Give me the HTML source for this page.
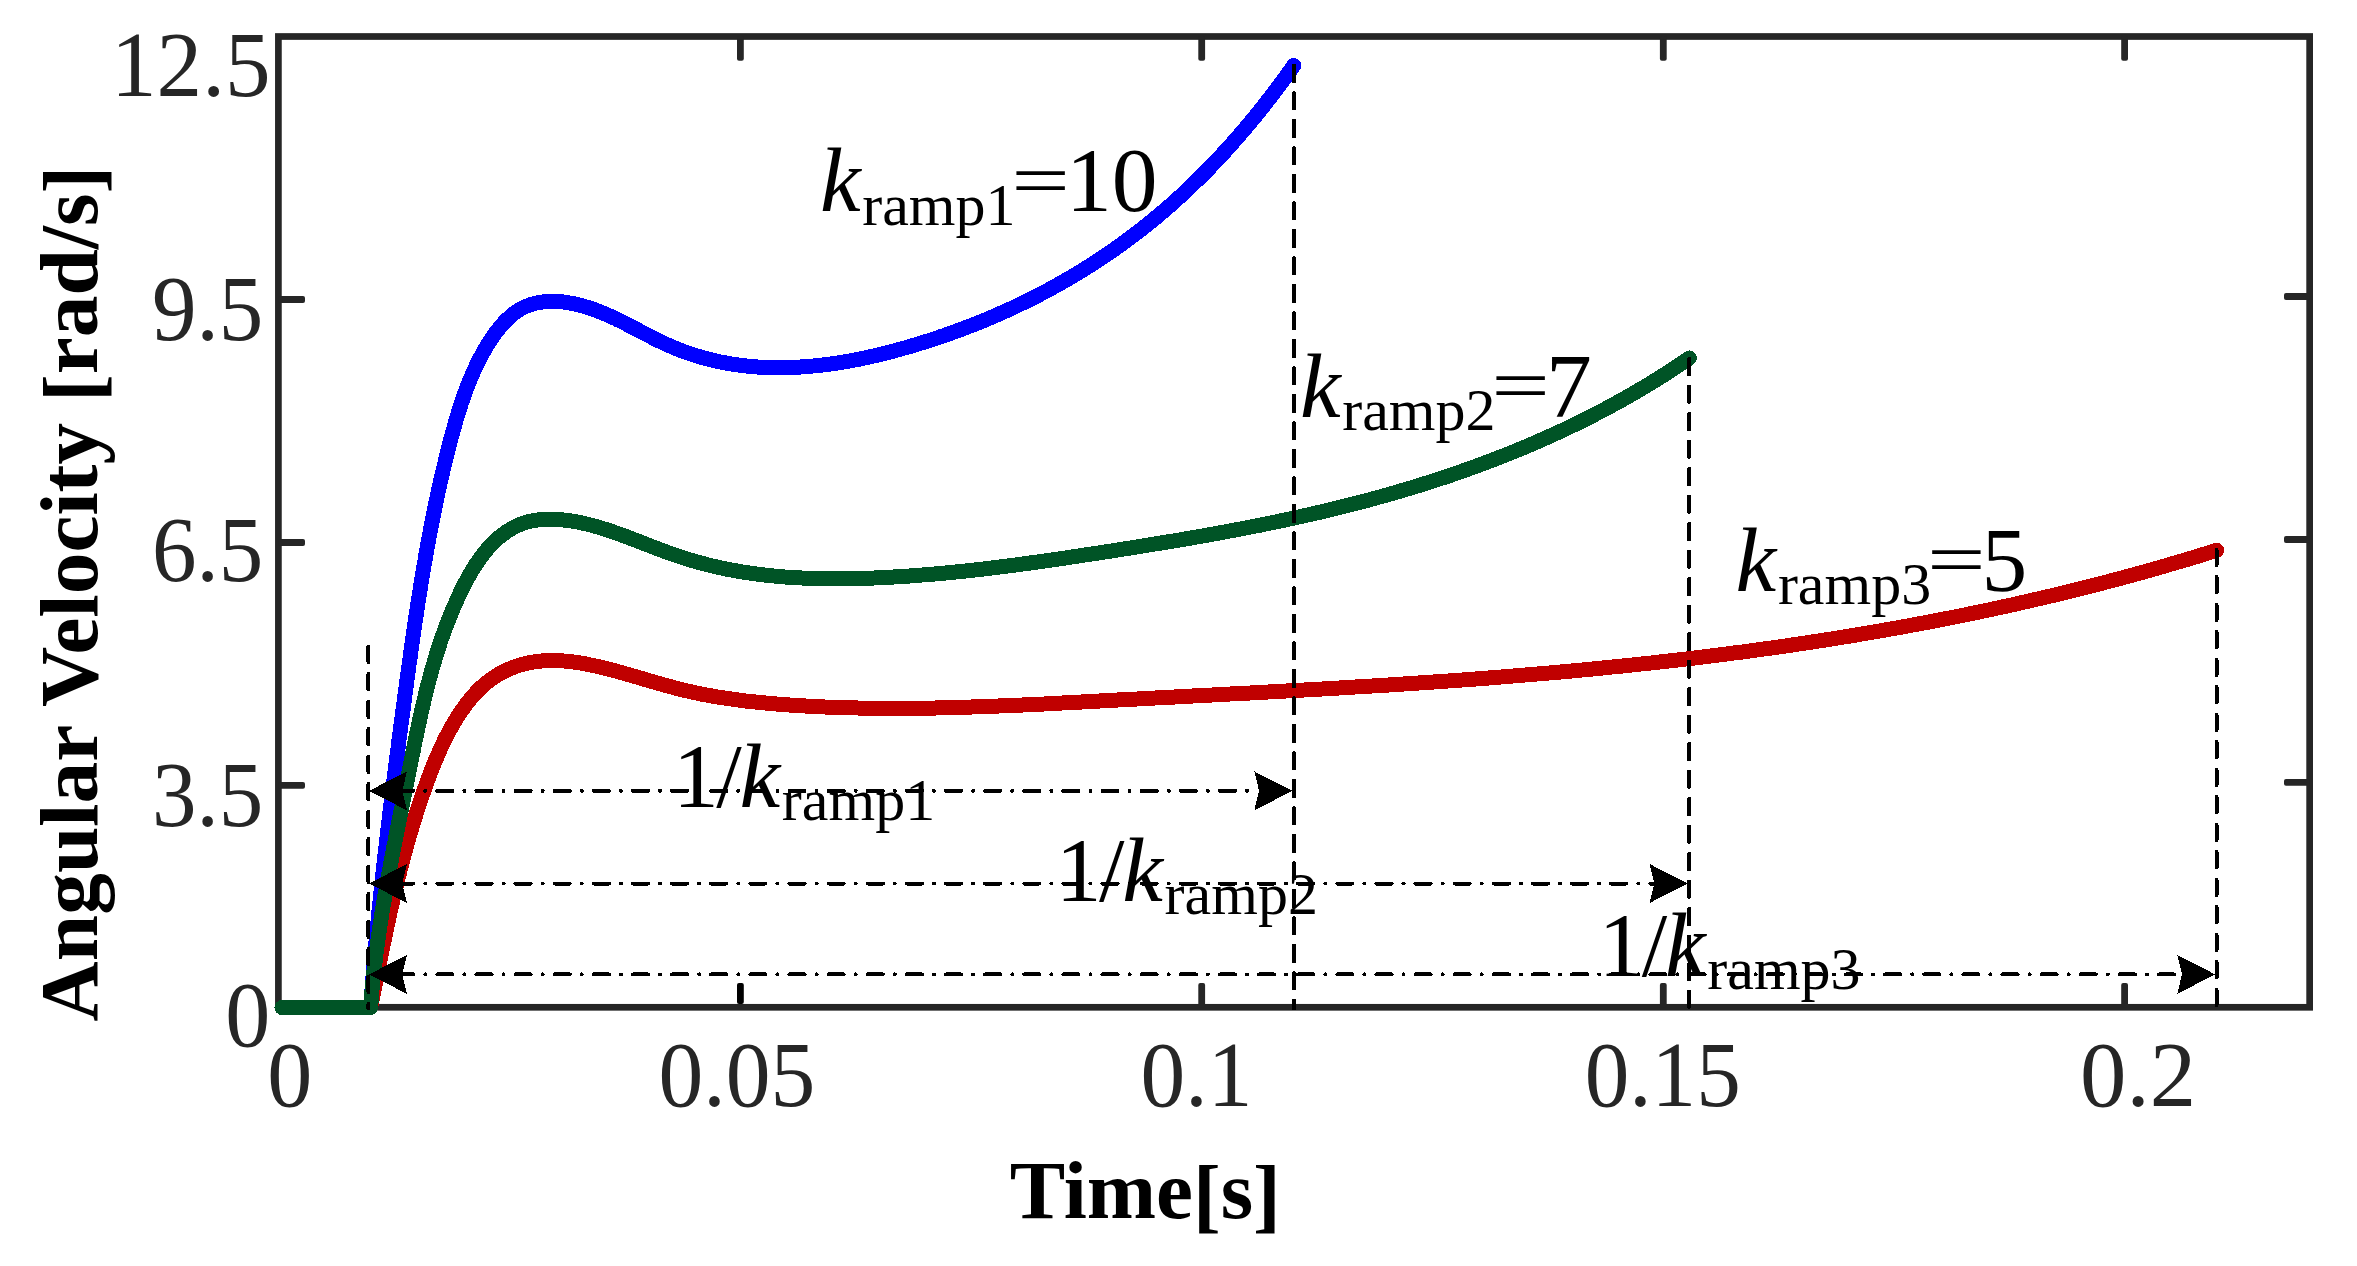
<!DOCTYPE html>
<html lang="en"><head><meta charset="utf-8"><title>Angular velocity vs time for different k_ramp</title>
<style>html,body{margin:0;padding:0;background:#fff}svg{display:block}text{font-family:"Liberation Serif","Times New Roman",serif}</style></head><body>
<svg width="2357" height="1266" viewBox="0 0 2357 1266">
<rect width="2357" height="1266" fill="#fff"/>
<rect x="278.40" y="36.50" width="2031.25" height="970.80" fill="none" stroke="#262626" stroke-width="6.7"/>
<g fill="#262626"><rect x="737.0" y="983.0" width="6.8" height="21.0" rx="2" fill="#000"/><rect x="737.0" y="36.5" width="6.8" height="24.2" rx="2"/><rect x="1198.3" y="983.0" width="6.8" height="24.3" rx="2"/><rect x="1198.3" y="36.5" width="6.8" height="24.2" rx="2"/><rect x="1659.9" y="983.0" width="6.8" height="24.3" rx="2"/><rect x="1659.9" y="36.5" width="6.8" height="24.2" rx="2"/><rect x="2121.2" y="983.0" width="6.8" height="24.3" rx="2"/><rect x="2121.2" y="36.5" width="6.8" height="24.2" rx="2"/><rect x="278.4" y="296.1" width="26.6" height="6.8" rx="2"/><rect x="2284.0" y="293.1" width="25.7" height="6.8" rx="2"/><rect x="278.4" y="539.1" width="26.6" height="6.8" rx="2"/><rect x="2284.0" y="536.1" width="25.7" height="6.8" rx="2"/><rect x="278.4" y="782.0" width="26.6" height="6.8" rx="2"/><rect x="2284.0" y="779.0" width="25.7" height="6.8" rx="2"/></g>
<g fill="none" stroke-width="15" stroke-linecap="round" stroke-linejoin="round" shape-rendering="crispEdges">
<path d="M370.6 1007.5 L371.2 1004.5 L371.8 1001.5 L372.4 998.6 L373.0 995.6 L373.5 992.6 L374.1 989.7 L374.7 986.7 L375.3 983.7 L375.9 980.8 L376.5 977.8 L377.1 974.8 L377.7 971.9 L378.2 968.9 L378.8 966.0 L379.4 963.0 L380.0 960.1 L380.6 957.1 L381.2 954.2 L381.8 951.2 L382.4 948.3 L383.0 945.3 L383.7 942.4 L384.3 939.4 L384.9 936.5 L385.5 933.6 L386.1 930.6 L386.8 927.7 L387.4 924.7 L388.0 921.8 L388.7 918.9 L389.3 916.0 L389.9 913.0 L390.6 910.1 L391.3 907.2 L391.9 904.3 L392.6 901.3 L393.3 898.4 L393.9 895.5 L394.6 892.6 L395.3 889.7 L396.0 886.8 L396.7 883.9 L397.4 880.9 L398.1 878.0 L398.9 875.1 L399.6 872.2 L400.3 869.3 L401.1 866.4 L401.8 863.5 L402.6 860.6 L403.3 857.7 L404.1 854.9 L404.9 852.0 L405.7 849.1 L406.5 846.2 L407.3 843.3 L408.1 840.4 L408.9 837.5 L409.8 834.7 L410.6 831.8 L411.5 828.9 L412.3 826.0 L413.2 823.2 L414.1 820.3 L415.0 817.4 L415.9 814.6 L416.8 811.7 L417.8 808.8 L418.7 806.0 L419.6 803.1 L420.6 800.2 L421.6 797.4 L422.6 794.5 L423.6 791.7 L424.6 788.8 L425.6 786.0 L426.6 783.1 L427.7 780.3 L428.7 777.5 L429.8 774.6 L430.9 771.8 L432.0 768.9 L433.1 766.1 L434.2 763.3 L435.4 760.5 L436.6 757.7 L437.8 754.9 L439.0 752.1 L440.2 749.3 L441.5 746.6 L442.8 743.8 L444.1 741.1 L445.4 738.4 L446.8 735.7 L448.2 733.0 L449.7 730.3 L451.1 727.6 L452.6 725.0 L454.1 722.4 L455.7 719.8 L457.3 717.2 L458.9 714.7 L460.6 712.1 L462.3 709.7 L464.1 707.2 L465.9 704.8 L467.7 702.4 L469.6 700.0 L471.5 697.7 L473.4 695.5 L475.4 693.2 L477.5 691.1 L479.6 689.0 L481.7 686.9 L483.9 685.0 L486.2 683.0 L488.5 681.2 L490.9 679.4 L493.3 677.7 L495.7 676.1 L498.2 674.6 L500.8 673.1 L503.4 671.7 L506.1 670.4 L508.8 669.2 L511.5 668.1 L514.3 667.0 L517.1 666.0 L519.9 665.1 L522.8 664.3 L525.7 663.6 L528.5 662.9 L531.4 662.4 L534.3 661.9 L537.3 661.5 L540.2 661.1 L543.1 660.9 L546.0 660.7 L548.9 660.6 L551.9 660.6 L554.8 660.6 L557.8 660.7 L560.7 660.8 L563.6 661.0 L566.6 661.2 L569.5 661.6 L572.5 661.9 L575.4 662.3 L578.4 662.7 L581.3 663.2 L584.3 663.7 L587.2 664.3 L590.2 664.9 L593.1 665.5 L596.1 666.1 L599.0 666.8 L602.0 667.5 L604.9 668.2 L607.9 668.9 L610.9 669.7 L613.8 670.5 L616.8 671.3 L619.7 672.1 L622.7 672.9 L625.6 673.8 L628.6 674.6 L631.6 675.5 L634.5 676.3 L637.5 677.2 L640.4 678.1 L643.4 679.0 L646.4 679.8 L649.3 680.7 L652.3 681.6 L655.3 682.4 L658.2 683.3 L661.2 684.2 L664.2 685.0 L667.1 685.8 L670.1 686.6 L673.1 687.4 L676.0 688.2 L679.0 689.0 L682.0 689.7 L684.9 690.4 L687.9 691.1 L690.9 691.8 L693.8 692.4 L696.8 693.1 L699.8 693.7 L702.7 694.3 L705.7 694.8 L708.7 695.4 L711.7 695.9 L714.6 696.5 L717.6 697.0 L720.6 697.5 L723.6 697.9 L726.5 698.4 L729.5 698.8 L732.5 699.2 L735.5 699.7 L738.4 700.0 L741.4 700.4 L744.4 700.8 L747.4 701.2 L750.3 701.5 L753.3 701.8 L756.3 702.1 L759.3 702.4 L762.3 702.7 L765.2 703.0 L768.2 703.3 L771.2 703.6 L774.2 703.8 L777.2 704.1 L780.2 704.3 L783.1 704.5 L786.1 704.7 L789.1 705.0 L792.1 705.2 L795.1 705.4 L798.1 705.5 L801.0 705.7 L804.0 705.9 L807.0 706.1 L810.0 706.2 L813.0 706.4 L816.0 706.6 L819.0 706.7 L821.9 706.8 L824.9 707.0 L827.9 707.1 L830.9 707.2 L833.9 707.3 L836.9 707.4 L839.9 707.5 L842.9 707.6 L845.9 707.7 L848.8 707.8 L851.8 707.9 L854.8 707.9 L857.8 708.0 L860.8 708.1 L863.8 708.1 L866.8 708.2 L869.8 708.2 L872.8 708.3 L875.8 708.3 L878.8 708.3 L881.8 708.3 L884.7 708.4 L887.7 708.4 L890.7 708.4 L893.7 708.4 L896.7 708.4 L899.7 708.4 L902.7 708.4 L905.7 708.4 L908.7 708.3 L911.7 708.3 L914.7 708.3 L917.7 708.3 L920.7 708.2 L923.7 708.2 L926.7 708.1 L929.7 708.1 L932.7 708.0 L935.7 708.0 L938.7 707.9 L941.7 707.9 L944.7 707.8 L947.7 707.7 L950.7 707.6 L953.7 707.6 L956.7 707.5 L959.7 707.4 L962.7 707.3 L965.7 707.2 L968.7 707.1 L971.7 707.0 L974.7 706.9 L977.7 706.8 L980.7 706.7 L983.7 706.6 L986.7 706.5 L989.7 706.4 L992.7 706.3 L995.7 706.1 L998.7 706.0 L1001.7 705.9 L1004.7 705.8 L1007.7 705.6 L1010.7 705.5 L1013.7 705.4 L1016.7 705.2 L1019.7 705.1 L1022.7 705.0 L1025.7 704.8 L1028.8 704.7 L1031.8 704.5 L1034.8 704.4 L1037.8 704.3 L1040.8 704.1 L1043.8 704.0 L1046.8 703.8 L1049.8 703.7 L1052.8 703.5 L1055.8 703.3 L1058.8 703.2 L1061.8 703.0 L1064.8 702.9 L1067.8 702.7 L1070.8 702.6 L1073.8 702.4 L1076.9 702.2 L1079.9 702.1 L1082.9 701.9 L1085.9 701.7 L1088.9 701.6 L1091.9 701.4 L1094.9 701.3 L1097.9 701.1 L1100.9 700.9 L1103.9 700.8 L1106.9 700.6 L1109.9 700.4 L1113.0 700.3 L1116.0 700.1 L1119.0 699.9 L1122.0 699.8 L1125.0 699.6 L1128.0 699.5 L1131.0 699.3 L1134.0 699.1 L1137.0 699.0 L1140.0 698.8 L1143.1 698.6 L1146.1 698.5 L1149.1 698.3 L1152.1 698.2 L1155.1 698.0 L1158.1 697.8 L1161.1 697.7 L1164.1 697.5 L1167.1 697.4 L1170.1 697.2 L1173.2 697.1 L1176.2 696.9 L1179.2 696.7 L1182.2 696.6 L1185.2 696.4 L1188.2 696.3 L1191.2 696.1 L1194.2 695.9 L1197.2 695.8 L1200.3 695.6 L1203.3 695.5 L1206.3 695.3 L1209.3 695.1 L1212.3 695.0 L1215.3 694.8 L1218.3 694.7 L1221.3 694.5 L1224.3 694.3 L1227.4 694.2 L1230.4 694.0 L1233.4 693.9 L1236.4 693.7 L1239.4 693.5 L1242.4 693.4 L1245.4 693.2 L1248.4 693.1 L1251.5 692.9 L1254.5 692.7 L1257.5 692.6 L1260.5 692.4 L1263.5 692.3 L1266.5 692.1 L1269.5 691.9 L1272.5 691.8 L1275.5 691.6 L1278.6 691.4 L1281.6 691.3 L1284.6 691.1 L1287.6 690.9 L1290.6 690.8 L1293.6 690.6 L1296.6 690.4 L1299.6 690.3 L1302.7 690.1 L1305.7 689.9 L1308.7 689.8 L1311.7 689.6 L1314.7 689.4 L1317.7 689.2 L1320.7 689.1 L1323.7 688.9 L1326.7 688.7 L1329.8 688.5 L1332.8 688.4 L1335.8 688.2 L1338.8 688.0 L1341.8 687.8 L1344.8 687.7 L1347.8 687.5 L1350.8 687.3 L1353.8 687.1 L1356.8 686.9 L1359.9 686.8 L1362.9 686.6 L1365.9 686.4 L1368.9 686.2 L1371.9 686.0 L1374.9 685.8 L1377.9 685.7 L1380.9 685.5 L1383.9 685.3 L1386.9 685.1 L1390.0 684.9 L1393.0 684.7 L1396.0 684.5 L1399.0 684.3 L1402.0 684.1 L1405.0 683.9 L1408.0 683.7 L1411.0 683.5 L1414.0 683.3 L1417.0 683.1 L1420.0 682.9 L1423.0 682.7 L1426.1 682.5 L1429.1 682.3 L1432.1 682.1 L1435.1 681.9 L1438.1 681.7 L1441.1 681.5 L1444.1 681.3 L1447.1 681.1 L1450.1 680.8 L1453.1 680.6 L1456.1 680.4 L1459.1 680.2 L1462.1 680.0 L1465.1 679.8 L1468.1 679.5 L1471.2 679.3 L1474.2 679.1 L1477.2 678.9 L1480.2 678.6 L1483.2 678.4 L1486.2 678.2 L1489.2 677.9 L1492.2 677.7 L1495.2 677.5 L1498.2 677.2 L1501.2 677.0 L1504.2 676.8 L1507.2 676.5 L1510.2 676.3 L1513.2 676.0 L1516.2 675.8 L1519.2 675.5 L1522.2 675.3 L1525.2 675.0 L1528.2 674.8 L1531.2 674.5 L1534.2 674.3 L1537.2 674.0 L1540.2 673.8 L1543.2 673.5 L1546.2 673.3 L1549.2 673.0 L1552.2 672.7 L1555.2 672.5 L1558.2 672.2 L1561.2 671.9 L1564.2 671.6 L1567.2 671.4 L1570.2 671.1 L1573.2 670.8 L1576.2 670.5 L1579.2 670.3 L1582.2 670.0 L1585.2 669.7 L1588.2 669.4 L1591.2 669.1 L1594.2 668.8 L1597.2 668.5 L1600.2 668.2 L1603.2 667.9 L1606.2 667.6 L1609.2 667.3 L1612.2 667.0 L1615.2 666.7 L1618.2 666.4 L1621.2 666.1 L1624.1 665.8 L1627.1 665.5 L1630.1 665.2 L1633.1 664.9 L1636.1 664.6 L1639.1 664.2 L1642.1 663.9 L1645.1 663.6 L1648.1 663.3 L1651.1 663.0 L1654.1 662.6 L1657.1 662.3 L1660.0 662.0 L1663.0 661.6 L1666.0 661.3 L1669.0 660.9 L1672.0 660.6 L1675.0 660.3 L1678.0 659.9 L1681.0 659.6 L1684.0 659.2 L1686.9 658.9 L1689.9 658.5 L1692.9 658.2 L1695.9 657.8 L1698.9 657.4 L1701.9 657.1 L1704.9 656.7 L1707.8 656.3 L1710.8 656.0 L1713.8 655.6 L1716.8 655.2 L1719.8 654.9 L1722.8 654.5 L1725.7 654.1 L1728.7 653.7 L1731.7 653.3 L1734.7 652.9 L1737.7 652.5 L1740.6 652.2 L1743.6 651.8 L1746.6 651.4 L1749.6 651.0 L1752.6 650.6 L1755.5 650.2 L1758.5 649.7 L1761.5 649.3 L1764.5 648.9 L1767.5 648.5 L1770.4 648.1 L1773.4 647.7 L1776.4 647.3 L1779.4 646.8 L1782.3 646.4 L1785.3 646.0 L1788.3 645.5 L1791.3 645.1 L1794.2 644.7 L1797.2 644.2 L1800.2 643.8 L1803.1 643.4 L1806.1 642.9 L1809.1 642.5 L1812.1 642.0 L1815.0 641.5 L1818.0 641.1 L1821.0 640.6 L1823.9 640.2 L1826.9 639.7 L1829.9 639.2 L1832.8 638.8 L1835.8 638.3 L1838.8 637.8 L1841.7 637.3 L1844.7 636.9 L1847.7 636.4 L1850.6 635.9 L1853.6 635.4 L1856.6 634.9 L1859.5 634.4 L1862.5 633.9 L1865.4 633.4 L1868.4 632.9 L1871.4 632.4 L1874.3 631.9 L1877.3 631.4 L1880.3 630.9 L1883.2 630.4 L1886.2 629.8 L1889.1 629.3 L1892.1 628.8 L1895.0 628.3 L1898.0 627.7 L1901.0 627.2 L1903.9 626.7 L1906.9 626.1 L1909.8 625.6 L1912.8 625.0 L1915.7 624.5 L1918.7 623.9 L1921.6 623.4 L1924.6 622.8 L1927.5 622.3 L1930.5 621.7 L1933.4 621.1 L1936.4 620.6 L1939.3 620.0 L1942.3 619.4 L1945.2 618.8 L1948.2 618.3 L1951.1 617.7 L1954.1 617.1 L1957.0 616.5 L1960.0 615.9 L1962.9 615.3 L1965.9 614.7 L1968.8 614.1 L1971.7 613.5 L1974.7 612.9 L1977.6 612.3 L1980.6 611.6 L1983.5 611.0 L1986.5 610.4 L1989.4 609.8 L1992.3 609.2 L1995.3 608.5 L1998.2 607.9 L2001.1 607.2 L2004.1 606.6 L2007.0 606.0 L2010.0 605.3 L2012.9 604.7 L2015.8 604.0 L2018.8 603.3 L2021.7 602.7 L2024.6 602.0 L2027.6 601.4 L2030.5 600.7 L2033.4 600.0 L2036.3 599.3 L2039.3 598.6 L2042.2 598.0 L2045.1 597.3 L2048.1 596.6 L2051.0 595.9 L2053.9 595.2 L2056.8 594.5 L2059.8 593.8 L2062.7 593.1 L2065.6 592.4 L2068.5 591.6 L2071.5 590.9 L2074.4 590.2 L2077.3 589.5 L2080.2 588.7 L2083.1 588.0 L2086.1 587.3 L2089.0 586.5 L2091.9 585.8 L2094.8 585.0 L2097.7 584.3 L2100.6 583.5 L2103.6 582.8 L2106.5 582.0 L2109.4 581.3 L2112.3 580.5 L2115.2 579.7 L2118.1 578.9 L2121.0 578.2 L2123.9 577.4 L2126.9 576.6 L2129.8 575.8 L2132.7 575.0 L2135.6 574.2 L2138.5 573.4 L2141.4 572.6 L2144.3 571.8 L2147.2 571.0 L2150.1 570.2 L2153.0 569.3 L2155.9 568.5 L2158.8 567.7 L2161.7 566.8 L2164.6 566.0 L2167.5 565.2 L2170.4 564.3 L2173.3 563.5 L2176.2 562.6 L2179.1 561.8 L2182.0 560.9 L2184.9 560.1 L2187.8 559.2 L2190.7 558.3 L2193.6 557.4 L2196.5 556.6 L2199.4 555.7 L2202.3 554.8 L2205.1 553.9 L2208.0 553.0 L2210.9 552.1 L2213.8 551.2 L2216.7 550.3" stroke="#c00000"/>
<path d="M370.6 1007.5 L370.8 1005.2 L370.9 1002.9 L371.1 1000.6 L371.3 998.3 L371.5 996.0 L371.6 993.7 L371.8 991.4 L372.0 989.1 L372.2 986.8 L372.4 984.5 L372.5 982.2 L372.7 979.9 L372.9 977.6 L373.1 975.3 L373.3 973.0 L373.5 970.7 L373.7 968.4 L373.9 966.1 L374.1 963.8 L374.3 961.5 L374.5 959.2 L374.7 956.9 L374.9 954.6 L375.1 952.3 L375.3 950.0 L375.5 947.7 L375.7 945.4 L375.9 943.1 L376.1 940.8 L376.3 938.5 L376.6 936.2 L376.8 933.9 L377.0 931.6 L377.2 929.3 L377.4 927.0 L377.7 924.7 L377.9 922.4 L378.1 920.1 L378.3 917.8 L378.6 915.5 L378.8 913.2 L379.0 910.9 L379.3 908.6 L379.5 906.3 L379.7 904.0 L380.0 901.7 L380.2 899.4 L380.4 897.1 L380.7 894.8 L380.9 892.5 L381.1 890.2 L381.4 887.9 L381.6 885.6 L381.9 883.3 L382.1 881.0 L382.4 878.7 L382.6 876.4 L382.9 874.1 L383.1 871.8 L383.4 869.5 L383.6 867.2 L383.9 864.9 L384.1 862.6 L384.4 860.3 L384.7 858.0 L384.9 855.7 L385.2 853.4 L385.4 851.1 L385.7 848.8 L386.0 846.5 L386.2 844.2 L386.5 841.9 L386.7 839.6 L387.0 837.3 L387.3 835.0 L387.6 832.7 L387.8 830.3 L388.1 828.0 L388.4 825.7 L388.6 823.4 L388.9 821.1 L389.2 818.8 L389.5 816.5 L389.7 814.2 L390.0 811.9 L390.3 809.6 L390.6 807.3 L390.8 805.0 L391.1 802.8 L391.4 800.5 L391.7 798.2 L392.0 795.9 L392.3 793.6 L392.5 791.3 L392.8 789.0 L393.1 786.7 L393.4 784.4 L393.7 782.1 L394.0 779.8 L394.3 777.5 L394.5 775.2 L394.8 772.9 L395.1 770.6 L395.4 768.3 L395.7 766.0 L396.0 763.7 L396.3 761.4 L396.6 759.1 L396.9 756.8 L397.2 754.5 L397.5 752.2 L397.8 749.9 L398.1 747.6 L398.4 745.3 L398.6 743.0 L398.9 740.7 L399.2 738.4 L399.5 736.1 L399.8 733.8 L400.1 731.5 L400.4 729.2 L400.7 726.9 L401.0 724.7 L401.3 722.4 L401.6 720.1 L402.0 717.8 L402.3 715.5 L402.6 713.2 L402.9 710.9 L403.2 708.6 L403.5 706.3 L403.8 704.0 L404.1 701.7 L404.4 699.4 L404.7 697.1 L405.0 694.8 L405.3 692.6 L405.6 690.3 L405.9 688.0 L406.2 685.7 L406.5 683.4 L406.8 681.1 L407.1 678.8 L407.5 676.5 L407.8 674.2 L408.1 671.9 L408.4 669.7 L408.7 667.4 L409.0 665.1 L409.3 662.8 L409.6 660.5 L410.0 658.2 L410.3 655.9 L410.6 653.6 L410.9 651.4 L411.2 649.1 L411.6 646.8 L411.9 644.5 L412.2 642.2 L412.5 639.9 L412.9 637.7 L413.2 635.4 L413.5 633.1 L413.8 630.8 L414.2 628.5 L414.5 626.2 L414.8 624.0 L415.2 621.7 L415.5 619.4 L415.8 617.1 L416.2 614.8 L416.5 612.5 L416.9 610.3 L417.2 608.0 L417.6 605.7 L417.9 603.4 L418.3 601.1 L418.6 598.9 L419.0 596.6 L419.3 594.3 L419.7 592.0 L420.1 589.8 L420.4 587.5 L420.8 585.2 L421.1 582.9 L421.5 580.6 L421.9 578.4 L422.3 576.1 L422.6 573.8 L423.0 571.5 L423.4 569.3 L423.8 567.0 L424.2 564.7 L424.6 562.5 L425.0 560.2 L425.4 557.9 L425.7 555.6 L426.1 553.4 L426.6 551.1 L427.0 548.8 L427.4 546.6 L427.8 544.3 L428.2 542.0 L428.6 539.7 L429.0 537.5 L429.5 535.2 L429.9 532.9 L430.3 530.7 L430.7 528.4 L431.2 526.1 L431.6 523.9 L432.1 521.6 L432.5 519.3 L433.0 517.1 L433.4 514.8 L433.9 512.6 L434.3 510.3 L434.8 508.0 L435.3 505.8 L435.7 503.5 L436.2 501.2 L436.7 499.0 L437.2 496.7 L437.6 494.5 L438.1 492.2 L438.6 489.9 L439.1 487.7 L439.6 485.4 L440.1 483.2 L440.6 480.9 L441.2 478.7 L441.7 476.4 L442.2 474.1 L442.7 471.9 L443.2 469.6 L443.8 467.4 L444.3 465.1 L444.9 462.9 L445.4 460.6 L446.0 458.4 L446.5 456.1 L447.1 453.9 L447.6 451.6 L448.2 449.4 L448.8 447.1 L449.4 444.9 L449.9 442.6 L450.5 440.4 L451.1 438.1 L451.7 435.9 L452.3 433.6 L452.9 431.4 L453.6 429.2 L454.2 426.9 L454.8 424.7 L455.4 422.4 L456.1 420.2 L456.7 418.0 L457.4 415.7 L458.1 413.5 L458.8 411.3 L459.5 409.1 L460.2 406.8 L460.9 404.6 L461.6 402.4 L462.4 400.2 L463.1 398.0 L463.9 395.8 L464.7 393.6 L465.5 391.4 L466.3 389.2 L467.1 387.1 L467.9 384.9 L468.8 382.7 L469.7 380.6 L470.6 378.4 L471.5 376.3 L472.4 374.1 L473.4 372.0 L474.3 369.8 L475.3 367.7 L476.3 365.6 L477.3 363.5 L478.4 361.4 L479.4 359.3 L480.5 357.2 L481.6 355.2 L482.8 353.1 L483.9 351.0 L485.1 349.0 L486.3 346.9 L487.5 344.9 L488.8 342.9 L490.1 340.9 L491.4 338.9 L492.7 336.9 L494.1 335.0 L495.4 333.0 L496.9 331.2 L498.3 329.3 L499.8 327.5 L501.3 325.7 L502.8 323.9 L504.3 322.2 L505.9 320.6 L507.5 319.0 L509.2 317.5 L510.9 316.0 L512.6 314.6 L514.3 313.2 L516.1 311.9 L517.9 310.7 L519.7 309.6 L521.6 308.5 L523.5 307.5 L525.5 306.6 L527.5 305.8 L529.5 305.0 L531.5 304.4 L533.6 303.8 L535.7 303.2 L537.8 302.8 L539.9 302.4 L542.1 302.1 L544.2 301.8 L546.4 301.6 L548.6 301.5 L550.9 301.4 L553.1 301.4 L555.4 301.5 L557.6 301.6 L559.9 301.7 L562.2 301.9 L564.5 302.2 L566.7 302.5 L569.0 302.9 L571.3 303.3 L573.6 303.7 L575.9 304.2 L578.2 304.8 L580.5 305.3 L582.7 305.9 L585.0 306.6 L587.3 307.3 L589.5 308.0 L591.7 308.8 L594.0 309.5 L596.2 310.3 L598.4 311.2 L600.6 312.1 L602.7 312.9 L604.9 313.9 L607.1 314.8 L609.2 315.8 L611.4 316.7 L613.5 317.7 L615.7 318.7 L617.8 319.8 L619.9 320.8 L622.1 321.9 L624.2 322.9 L626.3 324.0 L628.4 325.1 L630.5 326.2 L632.6 327.3 L634.7 328.4 L636.8 329.5 L638.9 330.6 L641.0 331.7 L643.1 332.8 L645.2 333.8 L647.3 334.9 L649.4 336.0 L651.5 337.1 L653.6 338.2 L655.7 339.2 L657.8 340.3 L659.9 341.3 L662.0 342.3 L664.1 343.3 L666.3 344.3 L668.4 345.2 L670.5 346.2 L672.7 347.1 L674.8 348.0 L677.0 348.9 L679.1 349.7 L681.3 350.6 L683.4 351.4 L685.6 352.2 L687.8 353.0 L690.0 353.7 L692.2 354.4 L694.3 355.1 L696.5 355.8 L698.7 356.5 L700.9 357.1 L703.1 357.8 L705.4 358.4 L707.6 359.0 L709.8 359.5 L712.0 360.1 L714.3 360.6 L716.5 361.1 L718.7 361.6 L721.0 362.1 L723.2 362.5 L725.4 362.9 L727.7 363.3 L729.9 363.7 L732.2 364.1 L734.5 364.5 L736.7 364.8 L739.0 365.1 L741.2 365.4 L743.5 365.7 L745.8 365.9 L748.0 366.2 L750.3 366.4 L752.6 366.6 L754.9 366.8 L757.1 367.0 L759.4 367.1 L761.7 367.2 L764.0 367.4 L766.3 367.5 L768.5 367.5 L770.8 367.6 L773.1 367.7 L775.4 367.7 L777.7 367.7 L780.0 367.7 L782.3 367.7 L784.6 367.7 L786.9 367.6 L789.1 367.6 L791.4 367.5 L793.7 367.4 L796.0 367.3 L798.3 367.2 L800.6 367.0 L802.9 366.9 L805.2 366.7 L807.5 366.5 L809.8 366.4 L812.1 366.1 L814.4 365.9 L816.7 365.7 L819.0 365.4 L821.3 365.2 L823.6 364.9 L825.9 364.6 L828.2 364.3 L830.5 364.0 L832.8 363.7 L835.1 363.4 L837.4 363.0 L839.7 362.7 L842.0 362.3 L844.3 361.9 L846.6 361.5 L848.9 361.1 L851.2 360.7 L853.4 360.2 L855.7 359.8 L858.0 359.4 L860.3 358.9 L862.6 358.4 L864.9 357.9 L867.2 357.5 L869.4 357.0 L871.7 356.4 L874.0 355.9 L876.3 355.4 L878.5 354.8 L880.8 354.3 L883.1 353.7 L885.4 353.2 L887.6 352.6 L889.9 352.0 L892.1 351.4 L894.4 350.8 L896.7 350.2 L898.9 349.6 L901.2 349.0 L903.4 348.3 L905.7 347.7 L907.9 347.0 L910.2 346.4 L912.4 345.7 L914.6 345.1 L916.9 344.4 L919.1 343.7 L921.3 343.0 L923.6 342.3 L925.8 341.6 L928.0 340.9 L930.2 340.2 L932.4 339.5 L934.6 338.8 L936.8 338.0 L939.0 337.3 L941.2 336.5 L943.4 335.8 L945.6 335.0 L947.8 334.3 L950.0 333.5 L952.2 332.7 L954.4 331.9 L956.6 331.1 L958.7 330.3 L960.9 329.5 L963.1 328.7 L965.2 327.9 L967.4 327.0 L969.6 326.2 L971.7 325.4 L973.9 324.5 L976.0 323.7 L978.2 322.8 L980.3 322.0 L982.4 321.1 L984.6 320.2 L986.7 319.3 L988.8 318.4 L991.0 317.5 L993.1 316.6 L995.2 315.7 L997.3 314.8 L999.4 313.9 L1001.5 312.9 L1003.6 312.0 L1005.7 311.0 L1007.8 310.1 L1009.9 309.1 L1012.0 308.2 L1014.1 307.2 L1016.2 306.2 L1018.3 305.2 L1020.3 304.2 L1022.4 303.2 L1024.5 302.2 L1026.5 301.2 L1028.6 300.2 L1030.7 299.2 L1032.7 298.1 L1034.8 297.1 L1036.8 296.0 L1038.9 295.0 L1040.9 293.9 L1042.9 292.8 L1045.0 291.8 L1047.0 290.7 L1049.0 289.6 L1051.0 288.5 L1053.0 287.4 L1055.0 286.3 L1057.1 285.2 L1059.1 284.1 L1061.1 282.9 L1063.1 281.8 L1065.0 280.7 L1067.0 279.5 L1069.0 278.4 L1071.0 277.2 L1073.0 276.0 L1074.9 274.8 L1076.9 273.7 L1078.9 272.5 L1080.8 271.3 L1082.8 270.1 L1084.7 268.9 L1086.7 267.6 L1088.6 266.4 L1090.6 265.2 L1092.5 264.0 L1094.4 262.7 L1096.4 261.5 L1098.3 260.2 L1100.2 258.9 L1102.1 257.7 L1104.0 256.4 L1105.9 255.1 L1107.8 253.8 L1109.7 252.5 L1111.6 251.2 L1113.5 249.9 L1115.4 248.6 L1117.3 247.2 L1119.1 245.9 L1121.0 244.6 L1122.9 243.2 L1124.7 241.9 L1126.6 240.5 L1128.4 239.1 L1130.3 237.8 L1132.1 236.4 L1134.0 235.0 L1135.8 233.6 L1137.6 232.2 L1139.4 230.8 L1141.3 229.4 L1143.1 228.0 L1144.9 226.5 L1146.7 225.1 L1148.5 223.6 L1150.3 222.2 L1152.1 220.7 L1153.9 219.3 L1155.7 217.8 L1157.4 216.3 L1159.2 214.8 L1161.0 213.3 L1162.7 211.8 L1164.5 210.3 L1166.3 208.8 L1168.0 207.3 L1169.8 205.8 L1171.5 204.2 L1173.2 202.7 L1175.0 201.2 L1176.7 199.6 L1178.4 198.0 L1180.1 196.5 L1181.8 194.9 L1183.5 193.3 L1185.2 191.7 L1186.9 190.1 L1188.6 188.5 L1190.3 186.9 L1192.0 185.3 L1193.7 183.7 L1195.3 182.1 L1197.0 180.4 L1198.7 178.8 L1200.3 177.2 L1202.0 175.5 L1203.6 173.9 L1205.3 172.2 L1206.9 170.6 L1208.5 168.9 L1210.2 167.2 L1211.8 165.5 L1213.4 163.8 L1215.0 162.2 L1216.6 160.5 L1218.2 158.8 L1219.8 157.1 L1221.4 155.3 L1223.0 153.6 L1224.6 151.9 L1226.1 150.2 L1227.7 148.5 L1229.3 146.7 L1230.8 145.0 L1232.4 143.3 L1233.9 141.5 L1235.4 139.8 L1237.0 138.0 L1238.5 136.3 L1240.0 134.5 L1241.6 132.7 L1243.1 131.0 L1244.6 129.2 L1246.1 127.4 L1247.6 125.6 L1249.1 123.9 L1250.6 122.1 L1252.0 120.3 L1253.5 118.5 L1255.0 116.7 L1256.4 114.9 L1257.9 113.1 L1259.4 111.3 L1260.8 109.5 L1262.2 107.7 L1263.7 105.9 L1265.1 104.1 L1266.5 102.2 L1268.0 100.4 L1269.4 98.6 L1270.8 96.8 L1272.2 95.0 L1273.6 93.1 L1275.0 91.3 L1276.3 89.5 L1277.7 87.6 L1279.1 85.8 L1280.5 84.0 L1281.8 82.1 L1283.2 80.3 L1284.5 78.4 L1285.9 76.6 L1287.2 74.7 L1288.5 72.9 L1289.9 71.1 L1291.2 69.2 L1292.5 67.4 L1293.8 65.5" stroke="#0000ff"/>
<path d="M282 1007.5 L370.6 1007.5  L370.8 1005.0 L371.0 1002.6 L371.2 1000.1 L371.4 997.6 L371.6 995.1 L371.8 992.7 L372.0 990.2 L372.2 987.7 L372.5 985.3 L372.7 982.8 L373.0 980.3 L373.2 977.9 L373.5 975.4 L373.7 972.9 L374.0 970.5 L374.3 968.0 L374.6 965.5 L374.9 963.1 L375.2 960.6 L375.5 958.2 L375.8 955.7 L376.1 953.2 L376.4 950.8 L376.8 948.3 L377.1 945.9 L377.4 943.4 L377.8 940.9 L378.1 938.5 L378.5 936.0 L378.8 933.6 L379.2 931.1 L379.5 928.6 L379.9 926.2 L380.3 923.7 L380.7 921.3 L381.1 918.8 L381.5 916.4 L381.8 913.9 L382.2 911.5 L382.6 909.0 L383.0 906.5 L383.5 904.1 L383.9 901.6 L384.3 899.2 L384.7 896.7 L385.1 894.3 L385.6 891.8 L386.0 889.4 L386.4 886.9 L386.9 884.5 L387.3 882.0 L387.7 879.6 L388.2 877.1 L388.6 874.7 L389.1 872.2 L389.5 869.8 L390.0 867.4 L390.5 864.9 L390.9 862.5 L391.4 860.0 L391.9 857.6 L392.3 855.1 L392.8 852.7 L393.3 850.2 L393.7 847.8 L394.2 845.4 L394.7 842.9 L395.2 840.5 L395.7 838.0 L396.1 835.6 L396.6 833.2 L397.1 830.7 L397.6 828.3 L398.1 825.8 L398.6 823.4 L399.0 821.0 L399.5 818.5 L400.0 816.1 L400.5 813.7 L401.0 811.2 L401.5 808.8 L402.0 806.3 L402.5 803.9 L403.0 801.5 L403.5 799.0 L404.0 796.6 L404.5 794.2 L404.9 791.7 L405.4 789.3 L405.9 786.9 L406.4 784.4 L406.9 782.0 L407.4 779.6 L407.9 777.2 L408.4 774.7 L408.9 772.3 L409.4 769.9 L409.8 767.4 L410.3 765.0 L410.8 762.6 L411.3 760.2 L411.8 757.7 L412.3 755.3 L412.8 752.9 L413.3 750.5 L413.7 748.0 L414.2 745.6 L414.7 743.2 L415.2 740.8 L415.7 738.4 L416.2 735.9 L416.7 733.5 L417.2 731.1 L417.7 728.7 L418.3 726.3 L418.8 723.9 L419.3 721.4 L419.8 719.0 L420.3 716.6 L420.9 714.2 L421.4 711.8 L422.0 709.4 L422.5 707.0 L423.1 704.6 L423.6 702.2 L424.2 699.8 L424.8 697.4 L425.3 695.0 L425.9 692.6 L426.5 690.2 L427.1 687.8 L427.7 685.4 L428.4 683.0 L429.0 680.6 L429.6 678.3 L430.2 675.9 L430.9 673.5 L431.6 671.1 L432.2 668.7 L432.9 666.3 L433.6 664.0 L434.3 661.6 L435.0 659.2 L435.7 656.9 L436.4 654.5 L437.2 652.1 L437.9 649.8 L438.7 647.4 L439.5 645.0 L440.2 642.7 L441.0 640.3 L441.8 638.0 L442.7 635.6 L443.5 633.3 L444.3 630.9 L445.2 628.6 L446.1 626.2 L447.0 623.9 L447.9 621.6 L448.8 619.2 L449.7 616.9 L450.6 614.6 L451.6 612.2 L452.6 609.9 L453.6 607.6 L454.6 605.3 L455.6 603.0 L456.6 600.7 L457.7 598.3 L458.7 596.0 L459.8 593.7 L460.9 591.4 L462.0 589.1 L463.2 586.8 L464.3 584.6 L465.5 582.3 L466.7 580.0 L467.9 577.8 L469.2 575.5 L470.4 573.3 L471.7 571.1 L473.1 568.9 L474.4 566.8 L475.8 564.6 L477.2 562.5 L478.6 560.4 L480.0 558.4 L481.5 556.4 L483.1 554.4 L484.6 552.4 L486.2 550.5 L487.8 548.6 L489.4 546.7 L491.1 544.9 L492.9 543.2 L494.6 541.4 L496.4 539.7 L498.2 538.1 L500.1 536.5 L502.0 535.0 L504.0 533.5 L506.0 532.1 L508.0 530.8 L510.1 529.5 L512.2 528.2 L514.4 527.1 L516.5 526.0 L518.7 525.0 L521.0 524.1 L523.2 523.3 L525.5 522.5 L527.8 521.9 L530.1 521.3 L532.5 520.9 L534.8 520.4 L537.2 520.1 L539.6 519.8 L542.0 519.6 L544.4 519.5 L546.8 519.4 L549.2 519.3 L551.6 519.3 L553.9 519.4 L556.3 519.5 L558.7 519.6 L561.1 519.8 L563.5 520.0 L565.9 520.2 L568.3 520.5 L570.7 520.9 L573.0 521.2 L575.4 521.7 L577.8 522.1 L580.2 522.6 L582.6 523.1 L584.9 523.6 L587.3 524.2 L589.7 524.8 L592.1 525.4 L594.4 526.0 L596.8 526.7 L599.2 527.4 L601.6 528.1 L603.9 528.9 L606.3 529.6 L608.7 530.4 L611.1 531.2 L613.4 532.0 L615.8 532.9 L618.2 533.7 L620.6 534.6 L622.9 535.4 L625.3 536.3 L627.7 537.2 L630.1 538.1 L632.5 539.0 L634.8 539.9 L637.2 540.8 L639.6 541.8 L642.0 542.7 L644.3 543.6 L646.7 544.5 L649.1 545.4 L651.5 546.4 L653.9 547.3 L656.3 548.2 L658.7 549.1 L661.0 550.0 L663.4 550.9 L665.8 551.8 L668.2 552.7 L670.6 553.5 L673.0 554.4 L675.4 555.2 L677.8 556.0 L680.2 556.8 L682.6 557.6 L685.0 558.4 L687.4 559.1 L689.8 559.9 L692.2 560.6 L694.7 561.3 L697.1 562.0 L699.5 562.7 L701.9 563.3 L704.3 563.9 L706.7 564.6 L709.2 565.2 L711.6 565.8 L714.0 566.3 L716.4 566.9 L718.9 567.4 L721.3 568.0 L723.7 568.5 L726.2 569.0 L728.6 569.5 L731.0 569.9 L733.5 570.4 L735.9 570.8 L738.3 571.3 L740.8 571.7 L743.2 572.1 L745.7 572.5 L748.1 572.8 L750.6 573.2 L753.0 573.6 L755.5 573.9 L757.9 574.2 L760.4 574.5 L762.8 574.8 L765.3 575.1 L767.7 575.4 L770.2 575.6 L772.6 575.9 L775.1 576.1 L777.5 576.4 L780.0 576.6 L782.5 576.8 L784.9 577.0 L787.4 577.2 L789.8 577.3 L792.3 577.5 L794.8 577.6 L797.2 577.8 L799.7 577.9 L802.1 578.0 L804.6 578.2 L807.1 578.3 L809.5 578.3 L812.0 578.4 L814.5 578.5 L816.9 578.6 L819.4 578.6 L821.9 578.7 L824.4 578.7 L826.8 578.7 L829.3 578.8 L831.8 578.8 L834.2 578.8 L836.7 578.8 L839.2 578.8 L841.7 578.8 L844.1 578.7 L846.6 578.7 L849.1 578.7 L851.5 578.6 L854.0 578.6 L856.5 578.5 L859.0 578.5 L861.4 578.4 L863.9 578.3 L866.4 578.2 L868.9 578.2 L871.3 578.1 L873.8 578.0 L876.3 577.9 L878.7 577.8 L881.2 577.6 L883.7 577.5 L886.2 577.4 L888.6 577.3 L891.1 577.1 L893.6 577.0 L896.0 576.9 L898.5 576.7 L901.0 576.5 L903.5 576.4 L905.9 576.2 L908.4 576.1 L910.9 575.9 L913.4 575.7 L915.8 575.5 L918.3 575.3 L920.8 575.1 L923.2 574.9 L925.7 574.7 L928.2 574.5 L930.7 574.3 L933.1 574.1 L935.6 573.9 L938.1 573.7 L940.5 573.5 L943.0 573.2 L945.5 573.0 L947.9 572.8 L950.4 572.5 L952.9 572.3 L955.4 572.0 L957.8 571.8 L960.3 571.5 L962.8 571.3 L965.2 571.0 L967.7 570.7 L970.2 570.5 L972.6 570.2 L975.1 569.9 L977.6 569.6 L980.0 569.3 L982.5 569.1 L985.0 568.8 L987.5 568.5 L989.9 568.2 L992.4 567.9 L994.9 567.6 L997.3 567.3 L999.8 567.0 L1002.3 566.7 L1004.7 566.3 L1007.2 566.0 L1009.7 565.7 L1012.1 565.4 L1014.6 565.1 L1017.1 564.7 L1019.5 564.4 L1022.0 564.1 L1024.5 563.7 L1026.9 563.4 L1029.4 563.1 L1031.9 562.7 L1034.3 562.4 L1036.8 562.1 L1039.3 561.7 L1041.7 561.4 L1044.2 561.0 L1046.6 560.7 L1049.1 560.3 L1051.6 560.0 L1054.0 559.6 L1056.5 559.2 L1059.0 558.9 L1061.4 558.5 L1063.9 558.2 L1066.4 557.8 L1068.8 557.4 L1071.3 557.1 L1073.7 556.7 L1076.2 556.3 L1078.7 556.0 L1081.1 555.6 L1083.6 555.2 L1086.0 554.8 L1088.5 554.5 L1091.0 554.1 L1093.4 553.7 L1095.9 553.3 L1098.3 553.0 L1100.8 552.6 L1103.3 552.2 L1105.7 551.8 L1108.2 551.4 L1110.6 551.1 L1113.1 550.7 L1115.6 550.3 L1118.0 549.9 L1120.5 549.5 L1122.9 549.1 L1125.4 548.8 L1127.8 548.4 L1130.3 548.0 L1132.8 547.6 L1135.2 547.2 L1137.7 546.8 L1140.1 546.4 L1142.6 546.0 L1145.0 545.6 L1147.5 545.2 L1149.9 544.8 L1152.4 544.4 L1154.9 544.0 L1157.3 543.6 L1159.8 543.2 L1162.2 542.8 L1164.7 542.4 L1167.1 542.0 L1169.6 541.6 L1172.0 541.2 L1174.5 540.8 L1176.9 540.4 L1179.4 540.0 L1181.8 539.6 L1184.3 539.1 L1186.7 538.7 L1189.2 538.3 L1191.6 537.9 L1194.0 537.4 L1196.5 537.0 L1198.9 536.6 L1201.4 536.2 L1203.8 535.7 L1206.3 535.3 L1208.7 534.9 L1211.2 534.4 L1213.6 534.0 L1216.0 533.5 L1218.5 533.1 L1220.9 532.6 L1223.4 532.2 L1225.8 531.7 L1228.2 531.3 L1230.7 530.8 L1233.1 530.4 L1235.6 529.9 L1238.0 529.5 L1240.4 529.0 L1242.9 528.5 L1245.3 528.0 L1247.7 527.6 L1250.2 527.1 L1252.6 526.6 L1255.0 526.1 L1257.5 525.7 L1259.9 525.2 L1262.3 524.7 L1264.7 524.2 L1267.2 523.7 L1269.6 523.2 L1272.0 522.7 L1274.5 522.2 L1276.9 521.7 L1279.3 521.2 L1281.7 520.7 L1284.2 520.2 L1286.6 519.6 L1289.0 519.1 L1291.4 518.6 L1293.8 518.1 L1296.3 517.5 L1298.7 517.0 L1301.1 516.5 L1303.5 515.9 L1305.9 515.4 L1308.4 514.8 L1310.8 514.3 L1313.2 513.7 L1315.6 513.2 L1318.0 512.6 L1320.4 512.1 L1322.8 511.5 L1325.2 510.9 L1327.7 510.3 L1330.1 509.8 L1332.5 509.2 L1334.9 508.6 L1337.3 508.0 L1339.7 507.4 L1342.1 506.8 L1344.5 506.2 L1346.9 505.6 L1349.3 505.0 L1351.7 504.4 L1354.1 503.8 L1356.5 503.2 L1358.9 502.6 L1361.3 501.9 L1363.7 501.3 L1366.1 500.7 L1368.5 500.0 L1370.9 499.4 L1373.3 498.7 L1375.7 498.1 L1378.0 497.4 L1380.4 496.8 L1382.8 496.1 L1385.2 495.4 L1387.6 494.8 L1390.0 494.1 L1392.4 493.4 L1394.8 492.7 L1397.1 492.0 L1399.5 491.3 L1401.9 490.6 L1404.3 489.9 L1406.7 489.2 L1409.0 488.5 L1411.4 487.8 L1413.8 487.1 L1416.2 486.3 L1418.5 485.6 L1420.9 484.9 L1423.3 484.1 L1425.6 483.4 L1428.0 482.6 L1430.4 481.9 L1432.7 481.1 L1435.1 480.4 L1437.5 479.6 L1439.8 478.8 L1442.2 478.0 L1444.5 477.3 L1446.9 476.5 L1449.3 475.7 L1451.6 474.9 L1454.0 474.1 L1456.3 473.3 L1458.7 472.4 L1461.0 471.6 L1463.3 470.8 L1465.7 470.0 L1468.0 469.1 L1470.4 468.3 L1472.7 467.5 L1475.1 466.6 L1477.4 465.8 L1479.7 464.9 L1482.1 464.0 L1484.4 463.2 L1486.7 462.3 L1489.0 461.4 L1491.4 460.5 L1493.7 459.6 L1496.0 458.7 L1498.3 457.8 L1500.6 456.9 L1502.9 456.0 L1505.3 455.1 L1507.6 454.2 L1509.9 453.3 L1512.2 452.3 L1514.5 451.4 L1516.8 450.5 L1519.1 449.5 L1521.4 448.6 L1523.7 447.6 L1526.0 446.6 L1528.3 445.7 L1530.5 444.7 L1532.8 443.7 L1535.1 442.7 L1537.4 441.7 L1539.7 440.7 L1541.9 439.7 L1544.2 438.7 L1546.5 437.7 L1548.8 436.7 L1551.0 435.7 L1553.3 434.7 L1555.5 433.6 L1557.8 432.6 L1560.0 431.5 L1562.3 430.5 L1564.5 429.4 L1566.8 428.4 L1569.0 427.3 L1571.3 426.2 L1573.5 425.1 L1575.8 424.1 L1578.0 423.0 L1580.2 421.9 L1582.4 420.8 L1584.7 419.7 L1586.9 418.5 L1589.1 417.4 L1591.3 416.3 L1593.5 415.2 L1595.7 414.0 L1597.9 412.9 L1600.1 411.7 L1602.3 410.6 L1604.5 409.4 L1606.7 408.3 L1608.9 407.1 L1611.1 405.9 L1613.3 404.7 L1615.4 403.5 L1617.6 402.3 L1619.8 401.1 L1622.0 399.9 L1624.1 398.7 L1626.3 397.5 L1628.4 396.3 L1630.6 395.0 L1632.8 393.8 L1634.9 392.6 L1637.0 391.3 L1639.2 390.0 L1641.3 388.8 L1643.5 387.5 L1645.6 386.2 L1647.7 385.0 L1649.8 383.7 L1651.9 382.4 L1654.1 381.1 L1656.2 379.8 L1658.3 378.5 L1660.4 377.1 L1662.5 375.8 L1664.6 374.5 L1666.7 373.1 L1668.8 371.8 L1670.8 370.4 L1672.9 369.1 L1675.0 367.7 L1677.1 366.4 L1679.1 365.0 L1681.2 363.6 L1683.2 362.2 L1685.3 360.8 L1687.4 359.4 L1689.4 358.0" stroke="#005426"/>
</g>
<g stroke="#000" stroke-width="4" stroke-linecap="round" stroke-dasharray="15.4 12.1" fill="none" shape-rendering="crispEdges">
<path d="M368.45 646.6 V1008.5"/><path d="M1294 65.7 V1008.5"/><path d="M1689 359 V1008.5"/><path d="M2216.5 549.6 V1008.5"/>
</g>
<g stroke="#000" stroke-width="4" stroke-linecap="round" stroke-dasharray="15.2 11.96 0.01 11.96" stroke-dashoffset="1.9" fill="none" shape-rendering="crispEdges">
<path d="M400 790.9 H1258.3"/>
<path d="M400 883.5 H1653.6"/>
<path d="M400 974.4 H2181.2"/>
</g>
<g fill="#000" shape-rendering="crispEdges">
<path d="M369.0 790.9 L407.0 771.4 L402.2 790.9 L407.0 810.4 Z"/>
<path d="M1292.3 790.9 L1254.3 771.4 L1259.1 790.9 L1254.3 810.4 Z"/>
<path d="M369.0 883.5 L407.0 864.0 L402.2 883.5 L407.0 903.0 Z"/>
<path d="M1687.6 883.5 L1649.6 864.0 L1654.4 883.5 L1649.6 903.0 Z"/>
<path d="M369.0 974.4 L407.0 954.9 L402.2 974.4 L407.0 993.9 Z"/>
<path d="M2215.2 974.4 L2177.2 954.9 L2182.0 974.4 L2177.2 993.9 Z"/>
</g>
<g>
<text transform="translate(111.03 95.80) scale(0.9750 1)" font-size="93.5" fill="#262626">12.5</text>
<text transform="translate(152.01 340.10) scale(0.9520 1)" font-size="93.5" fill="#262626">9.5</text>
<text transform="translate(152.01 581.10) scale(0.9520 1)" font-size="93.5" fill="#262626">6.5</text>
<text transform="translate(152.01 826.10) scale(0.9520 1)" font-size="93.5" fill="#262626">3.5</text>
<text transform="translate(225.37 1046.10) scale(0.9640 1)" font-size="93.5" fill="#262626">0</text>
<text transform="translate(267.37 1106.00) scale(0.9640 1)" font-size="93.5" fill="#262626">0</text>
<text transform="translate(658.49 1105.60) scale(0.9584 1)" font-size="93.5" fill="#262626">0.05</text>
<text transform="translate(1140.54 1105.80) scale(0.9568 1)" font-size="93.5" fill="#262626">0.1</text>
<text transform="translate(1584.70 1105.60) scale(0.9539 1)" font-size="93.5" fill="#262626">0.15</text>
<text transform="translate(2080.06 1105.70) scale(0.9930 1)" font-size="93.5" fill="#262626">0.2</text>
</g>
<text x="1009.7" y="1217.9" font-size="83.2" font-weight="bold" fill="#000">Time<tspan dy="3.6">[</tspan><tspan dy="-3.6">s</tspan><tspan dy="3.6">]</tspan></text>
<text transform="translate(96.5 1021.4) rotate(-90)" font-size="83.4" font-weight="bold" fill="#000">Angular Velocity <tspan dy="3.4">[</tspan><tspan dy="-3.4">rad/s</tspan><tspan dy="3.4">]</tspan></text>
<g fill="#000">
<text x="819.90" y="211.40" font-size="91.6" font-style="italic">k</text><text x="862.20" y="224.70" font-size="60.0">ramp1</text><text transform="translate(1040.70 204.50) scale(1.137 0.8)" x="-25.83" font-size="91.6">=</text><text x="1065.90" y="211.40" font-size="91.6">10</text>
<text x="1299.90" y="416.70" font-size="91.6" font-style="italic">k</text><text x="1342.20" y="430.00" font-size="60.0">ramp2</text><text transform="translate(1520.70 409.80) scale(1.137 0.8)" x="-25.83" font-size="91.6">=</text><text x="1545.90" y="416.70" font-size="91.6">7</text>
<text x="1735.60" y="590.90" font-size="91.6" font-style="italic">k</text><text x="1777.90" y="604.20" font-size="60.0">ramp3</text><text transform="translate(1956.40 584.00) scale(1.137 0.8)" x="-25.83" font-size="91.6">=</text><text x="1981.60" y="590.90" font-size="91.6">5</text>
<text x="673.06" y="806.70" font-size="91.6">1</text><text x="716.36" y="806.70" font-size="91.6">/</text><text x="739.56" y="806.70" font-size="91.6" font-style="italic">k</text><text x="781.86" y="820.00" font-size="60.0">ramp1</text>
<text x="1055.80" y="900.80" font-size="91.6">1</text><text x="1099.10" y="900.80" font-size="91.6">/</text><text x="1122.30" y="900.80" font-size="91.6" font-style="italic">k</text><text x="1164.60" y="914.10" font-size="60.0">ramp2</text>
<text x="1598.50" y="975.60" font-size="91.6">1</text><text x="1641.80" y="975.60" font-size="91.6">/</text><text x="1665.00" y="975.60" font-size="91.6" font-style="italic">k</text><text x="1707.30" y="988.90" font-size="60.0">ramp3</text>
</g>
</svg></body></html>
